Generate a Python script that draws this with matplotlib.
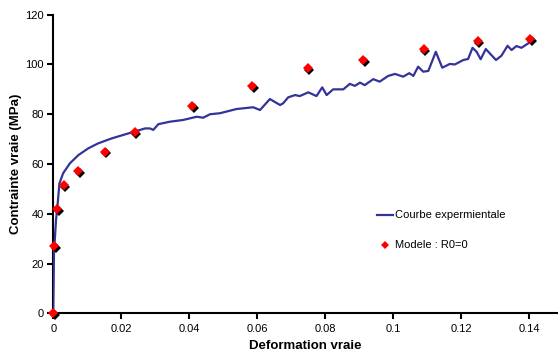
import matplotlib
matplotlib.use("Agg")
import matplotlib.pyplot as plt
from matplotlib.transforms import offset_copy

plt.rcParams['font.family'] = ['Liberation Sans', 'DejaVu Sans']

# Experimental curve (true strain, true stress MPa)
exp_strain = [0.0, 0.0002, 0.0008, 0.0013, 0.0018, 0.0029, 0.0049, 0.0074, 0.0103,
              0.0132, 0.0172, 0.0221, 0.0270, 0.0284, 0.0294, 0.0309, 0.0343, 0.0382,
              0.0422, 0.0441, 0.0461, 0.0490, 0.0539, 0.0588, 0.0608, 0.0637, 0.0667,
              0.0676, 0.0691, 0.0711, 0.0725, 0.0750, 0.0774, 0.0791, 0.0804, 0.0823,
              0.0853, 0.0872, 0.0887, 0.0902, 0.0916, 0.0941, 0.0960, 0.0985, 0.1005,
              0.1029, 0.1047, 0.1059, 0.1073, 0.1088, 0.1103, 0.1125, 0.1144, 0.1166,
              0.1181, 0.1206, 0.1220, 0.1233, 0.1245, 0.1257, 0.1272, 0.1302, 0.1318,
              0.1336, 0.1348, 0.1362, 0.1377, 0.1397, 0.1404]
exp_stress = [0.0, 24.2, 37.5, 44.3, 52.2, 56.3, 60.3, 63.6, 66.3,
              68.3, 70.3, 72.3, 74.3, 74.3, 73.7, 76.0, 77.0, 77.7,
              79.0, 78.6, 80.0, 80.4, 82.1, 82.8, 81.7, 86.1, 83.7,
              84.4, 86.8, 87.7, 87.3, 88.8, 87.3, 90.8, 87.7, 90.0,
              90.0, 92.2, 91.4, 92.7, 91.7, 94.1, 93.1, 95.4, 96.2,
              95.1, 96.5, 95.4, 99.1, 97.1, 97.4, 105.1, 98.7, 100.2,
              100.0, 101.8, 102.2, 106.7, 105.1, 102.1, 106.2, 101.8, 103.5,
              107.5, 105.8, 107.4, 106.7, 108.5, 109.1]

# Model R0=0
mod_strain = [0.0, 0.0002, 0.0012, 0.003, 0.0072, 0.0151, 0.0239, 0.0409, 0.0584,
              0.0748, 0.0912, 0.1089, 0.1248, 0.1402]
mod_stress = [0.0, 27.0, 41.9, 51.5, 57.1, 65.0, 72.8, 83.4, 91.3,
              98.5, 101.7, 106.3, 109.5, 110.2]

x_ticks = [0, 0.02, 0.04, 0.06, 0.08, 0.1, 0.12, 0.14]
x_tick_labels = ['0', '0.02', '0.04', '0.06', '0.08', '0.1', '0.12', '0.14']
y_ticks = [0, 20, 40, 60, 80, 100, 120]

W, H = 558, 356
fig = plt.figure(figsize=(W / 100, H / 100), dpi=100)
ax = fig.add_axes([53.3 / W, (H - 313.3) / H, (W - 53.3) / W, (313.3 - 14.7) / H])

line_color = '#333399'
ax.plot(exp_strain, exp_stress, color=line_color, lw=1.6, zorder=2,
        solid_joinstyle='round', label='Courbe expermientale')

shadow = offset_copy(ax.transData, fig=fig, x=1.3, y=-1.3, units='points')
ax.plot(mod_strain, mod_stress, ls='none', marker='D', ms=5.4, color='black',
        mec='black', mew=0, transform=shadow, zorder=3, clip_on=False)
ax.plot(mod_strain, mod_stress, ls='none', marker='D', ms=5.4, color='#ff0000',
        mec='#ff0000', mew=0, zorder=4, clip_on=False, label='Modele : R0=0')

ax.set_xlim(0, (W - 53.3) * 0.02 / 68)
ax.set_ylim(0, 120)
ax.set_xticks(x_ticks)
ax.set_xticklabels(x_tick_labels)
ax.set_yticks(y_ticks)

for s in ['top', 'right']:
    ax.spines[s].set_visible(False)
for s in ['left', 'bottom']:
    ax.spines[s].set_linewidth(1.5)
    ax.spines[s].set_color('black')
    ax.spines[s].set_zorder(1)
ax.tick_params(axis='both', direction='out', length=4, width=1.5,
               labelsize=8, colors='black')
ax.tick_params(axis='y', pad=3)
ax.tick_params(axis='x', pad=4)

ax.set_xlabel('Deformation vraie', fontsize=9.5, fontweight='bold', labelpad=4)
ax.set_ylabel('Contrainte vraie (MPa)', fontsize=9.5, fontweight='bold', labelpad=2)

leg = ax.legend(loc='upper left', bbox_to_anchor=(377 / W, 1 - 210.5 / H),
                bbox_transform=fig.transFigure, frameon=False, fontsize=8,
                handlelength=1.4, handletextpad=0.2, labelspacing=1.8,
                borderpad=0, borderaxespad=0, numpoints=1, markerscale=0.75)

fig.savefig('out.png', dpi=100)
